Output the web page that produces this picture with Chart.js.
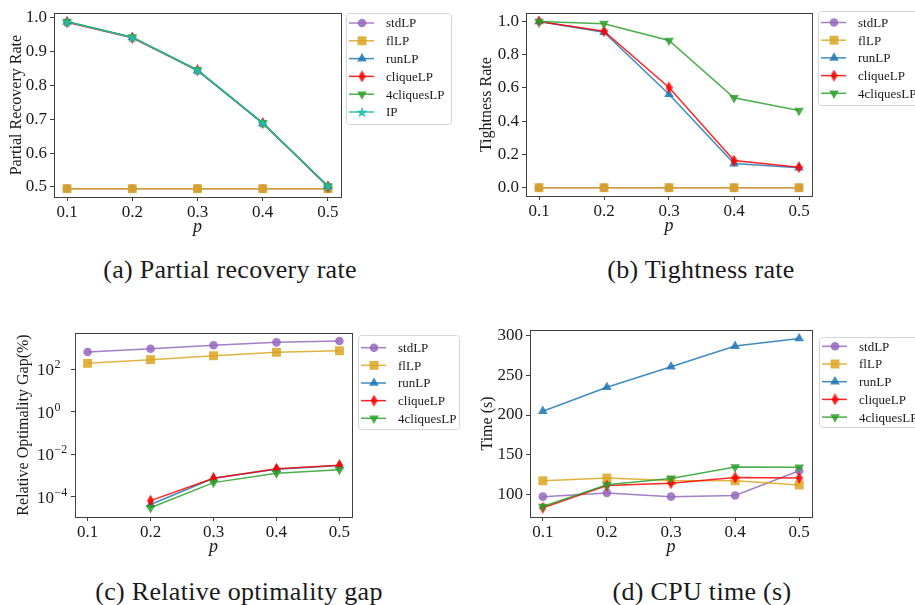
<!DOCTYPE html>
<html>
<head>
<meta charset="utf-8">
<script src="https://cdn.jsdelivr.net/npm/chart.js@4.4.1/dist/chart.umd.min.js"></script>
<style>
  body { margin: 0; background: #fff; width: 915px; height: 605px; position: relative; overflow: hidden; }
  canvas { position: absolute; }
  .cap { position: absolute; font-family: 'Liberation Serif', serif; font-size: 26px; letter-spacing: 0.3px;
         color: #1a1a1a; white-space: nowrap; transform: translate(-50%, -50%); }
</style>
</head>
<body>
<canvas id="chartA" width="460" height="250" style="left:0;top:0"></canvas>
<canvas id="chartB" width="455" height="250" style="left:460px;top:0"></canvas>
<canvas id="chartC" width="460" height="250" style="left:0;top:310px"></canvas>
<canvas id="chartD" width="455" height="250" style="left:460px;top:310px"></canvas>
<div class="cap" style="left:230px;top:270px">(a) Partial recovery rate</div>
<div class="cap" style="left:701px;top:270px">(b) Tightness rate</div>
<div class="cap" style="left:239px;top:592px">(c) Relative optimality gap</div>
<div class="cap" style="left:702px;top:592px">(d) CPU time (s)</div>
<script>
// x values and tick labels shared by all four panels
const pValues = [0.1, 0.2, 0.3, 0.4, 0.5];
const xTickValues = [0.1, 0.2, 0.3, 0.4, 0.5];

// (a) partial recovery rate
const recoveryStdLP = [0.495, 0.495, 0.495, 0.495, 0.495];
const recoveryFlLP = [0.495, 0.495, 0.495, 0.495, 0.495];
const recoveryRunLP = [0.988, 0.942, 0.844, 0.688, 0.502];
const recoveryCliqueLP = [0.987, 0.941, 0.845, 0.689, 0.501];
const recoveryFourCliquesLP = [0.989, 0.943, 0.846, 0.690, 0.503];
const recoveryIP = [0.988, 0.942, 0.845, 0.689, 0.502];
const recoveryTicks = [0.5, 0.6, 0.7, 0.8, 0.9, 1.0];

// (b) tightness rate
const tightStdLP = [0, 0, 0, 0, 0];
const tightFlLP = [0, 0, 0, 0, 0];
const tightRunLP = [1.0, 0.935, 0.562, 0.145, 0.12];
const tightCliqueLP = [1.0, 0.942, 0.603, 0.163, 0.123];
const tightFourCliquesLP = [1.0, 0.987, 0.886, 0.541, 0.464];
const tightTicks = [0, 0.2, 0.4, 0.6, 0.8, 1.0];

// (c) relative optimality gap (%), log scale; missing values at p=0.1
const gapStdLP = [630, 900, 1300, 1780, 2050];
const gapFlLP = [185, 275, 420, 610, 720];
const gapRunLP = [null, 4.4e-5, 7.5e-4, 2.0e-3, 3.0e-3];
const gapCliqueLP = [null, 6.7e-5, 7.6e-4, 2.1e-3, 3.1e-3];
const gapFourCliquesLP = [null, 3.1e-5, 4.7e-4, 1.3e-3, 1.9e-3];
const gapTicks = [1e-4, 1e-2, 1e0, 1e2];
const gapTickExponents = ['\u22124', '\u22122', '0', '2'];

// (d) CPU time (s)
const timeStdLP = [97, 101.7, 97, 98.4, 129.7];
const timeFlLP = [117, 120.5, 117.5, 117, 111.7];
const timeRunLP = [204.8, 235, 261, 287, 296.6];
const timeCliqueLP = [83, 111, 114, 121.3, 120.5];
const timeFourCliquesLP = [84.6, 112, 120, 134.3, 134];
const timeTicks = [100, 150, 200, 250, 300];

const SERIF = "'Liberation Serif', 'DejaVu Serif', serif";
const TEXT = '#1a1a1a';

// marker images for shapes Chart.js lacks
function markerCanvas(w, h, color, draw) {
  const c = document.createElement('canvas');
  c.width = w; c.height = h;
  const g = c.getContext('2d');
  g.fillStyle = color;
  g.beginPath();
  draw(g, w, h);
  g.closePath();
  g.fill();
  return c;
}
const thinDiamond = markerCanvas(7, 12, 'rgba(255,0,0,0.9)', (g, w, h) => {
  g.moveTo(w / 2, 0); g.lineTo(w, h / 2); g.lineTo(w / 2, h); g.lineTo(0, h / 2);
});
const starMarker = markerCanvas(12, 12, 'rgba(32,190,170,0.9)', (g, w, h) => {
  const cx = w / 2, cy = h / 2 + 0.6, R = 5.8, r = 2.4;
  for (let k = 0; k < 10; k++) {
    const ang = -Math.PI / 2 + k * Math.PI / 5;
    const rr = k % 2 ? r : R;
    g.lineTo(cx + rr * Math.cos(ang), cy + rr * Math.sin(ang));
  }
});

const styles = {
  stdLP:      { color: 'rgba(148,103,189,0.85)', pointStyle: 'circle', radius: 4.3 },
  flLP:       { color: 'rgba(218,165,32,0.85)', pointStyle: 'rect', radius: 6.3 },
  runLP:      { color: 'rgba(31,119,180,0.85)', pointStyle: 'triangle', radius: 5.6 },
  cliqueLP:   { color: 'rgba(255,0,0,0.85)', pointStyle: thinDiamond, radius: 5 },
  '4cliquesLP': { color: 'rgba(44,160,44,0.85)', pointStyle: 'triangle', radius: 5.6, rotation: 180 },
  IP:         { color: 'rgba(32,190,170,0.9)', pointStyle: starMarker, radius: 5 }
};

function makeDataset(name, values, idx) {
  const s = styles[name];
  return {
    label: name,
    data: pValues.map((p, i) => ({ x: p, y: values[i] })),
    borderColor: s.color,
    backgroundColor: s.color,
    borderWidth: 1.5,
    pointStyle: s.pointStyle,
    pointRadius: s.radius,
    pointRotation: s.rotation || 0,
    pointBackgroundColor: s.color,
    pointBorderColor: s.color,
    pointBorderWidth: 0,
    tension: 0,
    order: -idx,
    clip: false
  };
}

const framePlugin = {
  id: 'frame',
  afterDatasetsDraw(chart) {
    const { ctx, chartArea: a } = chart;
    ctx.save();
    ctx.strokeStyle = '#404040';
    ctx.lineWidth = 1;
    ctx.strokeRect(Math.round(a.left) + 0.5, Math.round(a.top) + 0.5,
                   Math.round(a.right - a.left), Math.round(a.bottom - a.top));
    ctx.restore();
  }
};

const titlePlugin = {
  id: 'axisTitles',
  afterDraw(chart, args, opts) {
    const { ctx, chartArea: a } = chart;
    ctx.save();
    ctx.fillStyle = TEXT;
    ctx.textAlign = 'center';
    ctx.textBaseline = 'middle';
    ctx.font = 'italic 18px ' + SERIF;
    ctx.fillText('p', (a.left + a.right) / 2, a.bottom + 30);
    ctx.translate(opts.yTitleX, (a.top + a.bottom) / 2);
    ctx.rotate(-Math.PI / 2);
    ctx.font = '16px ' + SERIF;
    ctx.fillText(opts.yTitle, 0, 0);
    ctx.restore();
  }
};

// "10" with a raised exponent for the log axis
const powerLabels = {
  id: 'powerLabels',
  afterDraw(chart, args, opts) {
    if (!opts.exponents) return;
    const { ctx } = chart;
    const yScale = chart.scales.y;
    ctx.save();
    ctx.fillStyle = TEXT;
    ctx.textAlign = 'left';
    ctx.textBaseline = 'alphabetic';
    opts.values.forEach((v, i) => {
      const y = yScale.getPixelForValue(v);
      ctx.font = '17px ' + SERIF;
      ctx.fillText('10', opts.x, y + 6);
      const bw = ctx.measureText('10').width;
      ctx.font = '12px ' + SERIF;
      ctx.fillText(opts.exponents[i], opts.x + bw + 0.5, y - 1);
    });
    ctx.restore();
  }
};

const legendPlugin = {
  id: 'boxLegend',
  afterDraw(chart, args, o) {
    const ctx = chart.ctx;
    ctx.save();
    ctx.beginPath();
    ctx.roundRect(o.x + 0.5, o.y + 0.5, o.w, o.h, 3);
    ctx.fillStyle = 'rgba(255,255,255,0.85)';
    ctx.fill();
    ctx.strokeStyle = '#d6d6d6';
    ctx.lineWidth = 1;
    ctx.stroke();
    chart.data.datasets.forEach((ds, i) => {
      const y = o.y + o.first + i * o.step;
      ctx.strokeStyle = ds.borderColor;
      ctx.lineWidth = 1.5;
      ctx.beginPath();
      ctx.moveTo(o.x + 3, y);
      ctx.lineTo(o.x + 28, y);
      ctx.stroke();
      ctx.fillStyle = ds.pointBackgroundColor;
      ctx.strokeStyle = ds.pointBorderColor;
      Chart.helpers.drawPoint(ctx, {
        pointStyle: ds.pointStyle, radius: ds.pointRadius,
        rotation: ds.pointRotation, borderWidth: 0
      }, o.x + 16, y);
      ctx.fillStyle = TEXT;
      ctx.font = '13px ' + SERIF;
      ctx.textAlign = 'left';
      ctx.textBaseline = 'middle';
      ctx.fillText(ds.label, o.x + 40, y + 1);
    });
    ctx.restore();
  }
};

function buildPanel(id, spec) {
  const canvas = document.getElementById(id);
  const W = canvas.width, H = canvas.height;
  const tickFont = { family: SERIF, size: 17 };
  const grid = { drawOnChartArea: false, drawTicks: true, tickLength: 4, color: '#404040', tickWidth: 1 };
  return new Chart(canvas, {
    type: 'line',
    data: { datasets: spec.series.map((s, i) => makeDataset(s[0], s[1], i)) },
    options: {
      responsive: false,
      animation: false,
      devicePixelRatio: 1,
      layout: { padding: { left: 0, top: spec.area.top, right: W - spec.area.right, bottom: 0 } },
      plugins: {
        legend: { display: false },
        tooltip: { enabled: false },
        boxLegend: spec.legend,
        axisTitles: { yTitle: spec.yTitle, yTitleX: spec.yTitleX },
        powerLabels: spec.power || {}
      },
      scales: {
        x: {
          type: 'linear', min: 0.08, max: 0.52,
          afterBuildTicks: s => { s.ticks = xTickValues.map(v => ({ value: v })); },
          afterFit: s => { s.height = H - spec.area.bottom; },
          ticks: { callback: v => v.toFixed(1), font: tickFont, color: TEXT, padding: 1, maxRotation: 0, autoSkip: false },
          grid: grid,
          border: { display: false }
        },
        y: {
          type: spec.yType || 'linear', min: spec.yMin, max: spec.yMax,
          afterBuildTicks: s => { s.ticks = spec.yTicks.map(v => ({ value: v })); },
          afterFit: s => { s.width = spec.area.left; },
          ticks: { callback: spec.yFormat, font: tickFont, color: TEXT, padding: 3, autoSkip: false },
          grid: grid,
          border: { display: false }
        }
      }
    },
    plugins: [framePlugin, titlePlugin, powerLabels, legendPlugin]
  });
}

buildPanel('chartA', {
  series: [['stdLP', recoveryStdLP], ['flLP', recoveryFlLP], ['runLP', recoveryRunLP],
           ['cliqueLP', recoveryCliqueLP], ['4cliquesLP', recoveryFourCliquesLP], ['IP', recoveryIP]],
  area: { left: 54, top: 7, right: 341, bottom: 197 },
  yMin: 0.4703, yMax: 1.0137, yTicks: recoveryTicks, yFormat: v => v.toFixed(1),
  yTitle: 'Partial Recovery Rate', yTitleX: 17,
  legend: { x: 346, y: 13, w: 105, h: 111, first: 10, step: 17.8 }
});

buildPanel('chartB', {
  series: [['stdLP', tightStdLP], ['flLP', tightFlLP], ['runLP', tightRunLP],
           ['cliqueLP', tightCliqueLP], ['4cliquesLP', tightFourCliquesLP]],
  area: { left: 66, top: 6, right: 352, bottom: 196 },
  yMin: -0.05, yMax: 1.05, yTicks: tightTicks, yFormat: v => v.toFixed(1),
  yTitle: 'Tightness Rate', yTitleX: 27,
  legend: { x: 358, y: 11, w: 105, h: 94, first: 11.5, step: 17.7 }
});

buildPanel('chartC', {
  series: [['stdLP', gapStdLP], ['flLP', gapFlLP], ['runLP', gapRunLP],
           ['cliqueLP', gapCliqueLP], ['4cliquesLP', gapFourCliquesLP]],
  area: { left: 75, top: 23, right: 352, bottom: 207 },
  yType: 'logarithmic', yMin: Math.pow(10, -4.94), yMax: Math.pow(10, 3.69), yTicks: gapTicks,
  yFormat: () => '',
  power: { values: gapTicks, exponents: gapTickExponents, x: 37 },
  yTitle: 'Relative Optimality Gap(%)', yTitleX: 24,
  legend: { x: 358, y: 25, w: 101, h: 94, first: 12.7, step: 17.65 }
});

buildPanel('chartD', {
  series: [['stdLP', timeStdLP], ['flLP', timeFlLP], ['runLP', timeRunLP],
           ['cliqueLP', timeCliqueLP], ['4cliquesLP', timeFourCliquesLP]],
  area: { left: 70, top: 20, right: 352, bottom: 207 },
  yMin: 71.3, yMax: 307.3, yTicks: timeTicks, yFormat: v => String(v),
  yTitle: 'Time (s)', yTitleX: 28,
  legend: { x: 359, y: 27, w: 105, h: 90, first: 9.3, step: 17.7 }
});
</script>
</body>
</html>
